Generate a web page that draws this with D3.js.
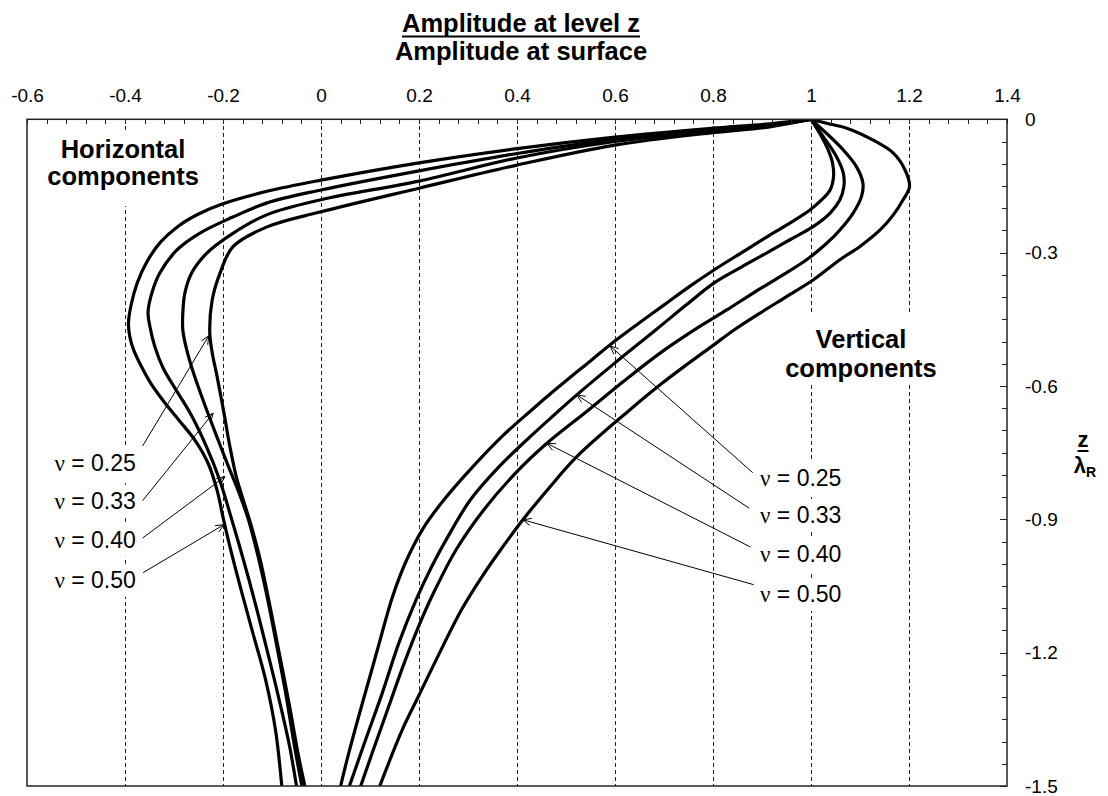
<!DOCTYPE html>
<html>
<head>
<meta charset="utf-8">
<script src="https://cdn.jsdelivr.net/npm/d3@7"></script>
<style>
  html, body { margin: 0; padding: 0; background: #fff; }
  svg { display: block; font-family: Arial, "Liberation Sans", sans-serif; }
</style>
</head>
<body>
<svg id="chart" width="1108" height="796"></svg>
<script>
// ---------------- data ----------------
// amplitude ratio (x) and normalised depth z / lambda_R (y)
const xTickValues = [-0.6, -0.4, -0.2, 0, 0.2, 0.4, 0.6, 0.8, 1, 1.2, 1.4];
const yTickValues = [0, -0.3, -0.6, -0.9, -1.2, -1.5];
const nuLabels = ["0.25", "0.33", "0.40", "0.50"];

// horizontal components, one array per Poisson's ratio: [amplitude, depth]
const horiz025 = [[1,0],[0.916,-0.017],[0.8,-0.030],[0.6,-0.058],[0.4,-0.103],[0.2,-0.155],[0.0,-0.208],
  [-0.110,-0.242],[-0.180,-0.287],[-0.206,-0.346],[-0.222,-0.406],[-0.227,-0.480],[-0.222,-0.525],
  [-0.212,-0.579],[-0.198,-0.661],[-0.186,-0.736],[-0.173,-0.804],[-0.163,-0.841],[-0.142,-0.916],
  [-0.124,-0.991],[-0.104,-1.096],[-0.084,-1.208],[-0.064,-1.321],[-0.047,-1.426],[-0.033,-1.500]];
const horiz033 = [[1,0],[0.916,-0.014],[0.8,-0.026],[0.6,-0.050],[0.4,-0.087],[0.2,-0.139],[0.0,-0.181],
  [-0.111,-0.215],[-0.179,-0.256],[-0.233,-0.301],[-0.264,-0.346],[-0.278,-0.392],[-0.282,-0.436],
  [-0.282,-0.474],[-0.274,-0.519],[-0.259,-0.575],[-0.238,-0.640],[-0.214,-0.710],[-0.189,-0.781],
  [-0.167,-0.841],[-0.148,-0.901],[-0.130,-0.976],[-0.110,-1.074],[-0.090,-1.186],[-0.071,-1.298],
  [-0.054,-1.411],[-0.039,-1.500]];
const horiz040 = [[1,0],[0.916,-0.012],[0.8,-0.023],[0.6,-0.045],[0.4,-0.077],[0.2,-0.116],[0.0,-0.159],
  [-0.110,-0.188],[-0.180,-0.220],[-0.247,-0.256],[-0.294,-0.294],[-0.329,-0.346],[-0.345,-0.390],
  [-0.353,-0.435],[-0.349,-0.467],[-0.339,-0.512],[-0.322,-0.560],[-0.298,-0.605],[-0.267,-0.661],
  [-0.234,-0.736],[-0.207,-0.811],[-0.186,-0.886],[-0.166,-0.961],[-0.147,-1.036],[-0.129,-1.111],
  [-0.112,-1.186],[-0.095,-1.261],[-0.079,-1.336],[-0.064,-1.411],[-0.050,-1.500]];
const horiz050 = [[1,0],[0.916,-0.010],[0.8,-0.020],[0.6,-0.040],[0.4,-0.066],[0.2,-0.098],[0.0,-0.137],
  [-0.110,-0.162],[-0.200,-0.190],[-0.250,-0.213],[-0.292,-0.241],[-0.328,-0.277],[-0.355,-0.320],
  [-0.375,-0.368],[-0.388,-0.420],[-0.393,-0.460],[-0.390,-0.490],[-0.382,-0.520],[-0.368,-0.553],
  [-0.348,-0.593],[-0.320,-0.636],[-0.289,-0.678],[-0.256,-0.724],[-0.230,-0.775],[-0.212,-0.835],
  [-0.199,-0.900],[-0.186,-0.961],[-0.165,-1.051],[-0.139,-1.156],[-0.113,-1.261],[-0.093,-1.373],
  [-0.080,-1.500]];

// vertical components
const vert025 = [[1,0],[1.018,-0.032],[1.035,-0.069],[1.044,-0.099],[1.046,-0.129],[1.039,-0.159],
  [1.022,-0.181],[0.998,-0.204],[0.950,-0.238],[0.911,-0.264],[0.857,-0.301],[0.802,-0.339],
  [0.751,-0.377],[0.701,-0.417],[0.652,-0.456],[0.603,-0.496],[0.536,-0.556],[0.470,-0.616],
  [0.430,-0.654],[0.369,-0.714],[0.298,-0.796],[0.251,-0.856],[0.211,-0.916],[0.175,-0.991],
  [0.146,-1.074],[0.119,-1.178],[0.100,-1.253],[0.077,-1.343],[0.055,-1.433],[0.040,-1.500]];
const vert033 = [[1,0],[1.025,-0.039],[1.052,-0.084],[1.066,-0.121],[1.067,-0.152],[1.059,-0.181],
  [1.039,-0.211],[1.005,-0.241],[0.957,-0.271],[0.909,-0.301],[0.857,-0.333],[0.801,-0.369],
  [0.745,-0.418],[0.683,-0.474],[0.600,-0.548],[0.522,-0.620],[0.487,-0.654],[0.427,-0.714],
  [0.364,-0.781],[0.305,-0.856],[0.259,-0.939],[0.226,-1.006],[0.194,-1.081],[0.159,-1.178],
  [0.125,-1.291],[0.091,-1.396],[0.058,-1.500]];
const vert040 = [[1,0],[1.032,-0.032],[1.066,-0.069],[1.093,-0.107],[1.106,-0.144],[1.103,-0.174],
  [1.086,-0.211],[1.059,-0.249],[1.032,-0.279],[0.991,-0.316],[0.937,-0.354],[0.882,-0.391],
  [0.828,-0.429],[0.773,-0.466],[0.692,-0.526],[0.617,-0.590],[0.546,-0.654],[0.461,-0.729],
  [0.397,-0.796],[0.332,-0.879],[0.276,-0.968],[0.233,-1.058],[0.208,-1.118],[0.170,-1.223],
  [0.136,-1.328],[0.107,-1.418],[0.081,-1.500]];
const vert050 = [[1,0],[1.032,-0.009],[1.073,-0.020],[1.127,-0.047],[1.168,-0.076],[1.192,-0.114],
  [1.201,-0.152],[1.188,-0.181],[1.168,-0.215],[1.141,-0.249],[1.100,-0.286],[1.059,-0.316],
  [1.005,-0.361],[0.950,-0.399],[0.896,-0.436],[0.843,-0.474],[0.801,-0.508],[0.750,-0.549],
  [0.696,-0.594],[0.630,-0.654],[0.522,-0.759],[0.465,-0.830],[0.412,-0.901],[0.367,-0.968],
  [0.328,-1.030],[0.287,-1.103],[0.232,-1.223],[0.199,-1.298],[0.166,-1.373],[0.120,-1.500]];

// callouts: label anchor, arrow tail and arrow head in [amplitude, depth]
const horizCallouts = [
  { nu: nuLabels[0], label: [-0.378, -0.791], tail: [-0.364, -0.735], head: [-0.229, -0.487] },
  { nu: nuLabels[1], label: [-0.378, -0.876], tail: [-0.364, -0.858], head: [-0.220, -0.661] },
  { nu: nuLabels[2], label: [-0.378, -0.964], tail: [-0.364, -0.942], head: [-0.196, -0.804] },
  { nu: nuLabels[3], label: [-0.378, -1.054], tail: [-0.363, -1.020], head: [-0.198, -0.912] }
];
const vertCallouts = [
  { nu: nuLabels[0], label: [0.896, -0.825], tail: [0.881, -0.795], head: [0.590, -0.510] },
  { nu: nuLabels[1], label: [0.896, -0.908], tail: [0.874, -0.875], head: [0.522, -0.620] },
  { nu: nuLabels[2], label: [0.896, -0.996], tail: [0.876, -0.962], head: [0.461, -0.729] },
  { nu: nuLabels[3], label: [0.896, -1.086], tail: [0.883, -1.047], head: [0.412, -0.901] }
];

// ---------------- layout ----------------
const W = 1108, H = 796;
const plot = { left: 27, right: 1007, top: 119.3, bottom: 786 };
const FONT = 'Arial, "Liberation Sans", sans-serif';

const x = d3.scaleLinear().domain([-0.6, 1.4]).range([plot.left, plot.right]);
const y = d3.scaleLinear().domain([0, -1.5]).range([plot.top, plot.bottom]);

const svg = d3.select("#chart");
svg.append("rect").attr("width", W).attr("height", H).attr("fill", "#fff");

svg.append("defs").append("clipPath").attr("id", "plotClip")
  .append("rect")
  .attr("x", plot.left).attr("y", plot.top)
  .attr("width", plot.right - plot.left).attr("height", plot.bottom - plot.top);

// dashed vertical gridlines at the major amplitude ticks
svg.append("g")
  .attr("shape-rendering", "crispEdges")
  .selectAll("line")
  .data(xTickValues.slice(1, -1))
  .join("line")
  .attr("x1", d => Math.round(x(d)) + 0.5).attr("x2", d => Math.round(x(d)) + 0.5)
  .attr("y1", plot.top).attr("y2", plot.bottom)
  .attr("stroke", "#222").attr("stroke-width", 1)
  .attr("stroke-dasharray", "4,3");

// text boxes with white fill (they hide the gridlines behind them)
const boxLayer = svg.append("g");
const textLayer = svg.append("g");

function boxedText(g, pad) {
  const b = g.node().getBBox();
  boxLayer.append("rect")
    .attr("x", b.x - pad[3]).attr("y", b.y - pad[0])
    .attr("width", b.width + pad[1] + pad[3])
    .attr("height", b.height + pad[0] + pad[2])
    .attr("fill", "#fff");
}

// "Horizontal components" / "Vertical components"
function twoLineLabel(cx, y1, y2, l1, l2, pad) {
  const g = textLayer.append("g");
  const t = g.append("text")
    .attr("text-anchor", "middle")
    .attr("font-family", FONT).attr("font-weight", "bold")
    .attr("font-size", 25.5).attr("fill", "#000");
  t.append("tspan").attr("x", cx).attr("y", y1).text(l1);
  t.append("tspan").attr("x", cx).attr("y", y2).text(l2);
  boxedText(g, pad);
}
twoLineLabel(x(-0.404), 158, 185, "Horizontal", "components", [4, 6, 16, 6]);
twoLineLabel(x(1.102), 348, 377, "Vertical", "components", [10, 6, 2, 6]);

// nu labels
function nuLabel(c, anchor) {
  const g = textLayer.append("g");
  const t = g.append("text")
    .attr("x", x(c.label[0])).attr("y", y(c.label[1]))
    .attr("text-anchor", anchor)
    .attr("font-family", FONT).attr("font-size", 23).attr("fill", "#000");
  t.append("tspan").attr("font-family", '"Liberation Serif", "Times New Roman", serif').text("\u03bd");
  t.append("tspan").text(" = " + c.nu);
  boxedText(g, [3, 2, 4, 2]);
}
horizCallouts.forEach(c => nuLabel(c, "end"));
vertCallouts.forEach(c => nuLabel(c, "start"));

// curves
const line = d3.line()
  .x(d => x(d[0])).y(d => y(d[1]))
  .curve(d3.curveCatmullRom.alpha(0.5));

const curves = [horiz025, horiz033, horiz040, horiz050, vert025, vert033, vert040, vert050];
svg.append("g").attr("clip-path", "url(#plotClip)")
  .selectAll("path")
  .data(curves)
  .join("path")
  .attr("d", line)
  .attr("fill", "none")
  .attr("stroke", "#000")
  .attr("stroke-width", 3.2)
  .attr("stroke-linejoin", "round");

// callout arrows (thin line with open head)
const arrowG = svg.append("g").attr("stroke", "#000").attr("stroke-width", 1).attr("fill", "none");
[...horizCallouts, ...vertCallouts].forEach(c => {
  const x0 = x(c.tail[0]), y0 = y(c.tail[1]);
  const x1 = x(c.head[0]), y1 = y(c.head[1]);
  const a = Math.atan2(y0 - y1, x0 - x1);
  const L = 9, s = 0.42;
  arrowG.append("line").attr("x1", x0).attr("y1", y0).attr("x2", x1).attr("y2", y1);
  arrowG.append("path").attr("d",
    `M${x1 + L * Math.cos(a + s)},${y1 + L * Math.sin(a + s)}L${x1},${y1}L${x1 + L * Math.cos(a - s)},${y1 + L * Math.sin(a - s)}`);
});

// top axis: labels
const topAxis = svg.append("g")
  .attr("transform", `translate(0,${plot.top})`)
  .call(d3.axisTop(x).tickValues(xTickValues).tickSize(0).tickPadding(17).tickFormat(d => String(d)));
topAxis.select(".domain").remove();
topAxis.selectAll("text").attr("font-family", FONT).attr("font-size", 19).attr("fill", "#000");

// top axis: inward minor ticks every 0.04
svg.append("g").attr("shape-rendering", "crispEdges").selectAll("line")
  .data(d3.range(0, 51).map(i => -0.6 + i * 0.04))
  .join("line")
  .attr("x1", d => Math.round(x(d)) + 0.5).attr("x2", d => Math.round(x(d)) + 0.5)
  .attr("y1", plot.top).attr("y2", plot.top + 5)
  .attr("stroke", "#222").attr("stroke-width", 1);

// right axis: labels
const rightAxis = svg.append("g")
  .attr("transform", `translate(${plot.right},0)`)
  .call(d3.axisRight(y).tickValues(yTickValues).tickSize(0).tickPadding(18).tickFormat(d => String(d)));
rightAxis.select(".domain").remove();
rightAxis.selectAll("text").attr("font-family", FONT).attr("font-size", 19).attr("fill", "#000");

// right axis: inward ticks, minor every 0.05, major every 0.3
svg.append("g").attr("shape-rendering", "crispEdges").selectAll("line")
  .data(d3.range(0, 31).map(i => -i * 0.05))
  .join("line")
  .attr("x1", plot.right)
  .attr("x2", (d, i) => plot.right - (i % 6 === 0 ? 7 : 5))
  .attr("y1", d => Math.round(y(d)) + 0.5).attr("y2", d => Math.round(y(d)) + 0.5)
  .attr("stroke", "#222").attr("stroke-width", 1);

// plot frame
svg.append("rect")
  .attr("x", plot.left).attr("y", plot.top)
  .attr("width", plot.right - plot.left).attr("height", plot.bottom - plot.top)
  .attr("fill", "none").attr("stroke", "#222").attr("stroke-width", 1.5);

// title (fraction) above the plot
const cxTitle = 521;
const t1 = svg.append("text")
  .attr("x", cxTitle).attr("y", 32).attr("text-anchor", "middle")
  .attr("font-family", FONT).attr("font-weight", "bold").attr("font-size", 25.5)
  .text("Amplitude at level z");
const b1 = t1.node().getBBox();
svg.append("line")
  .attr("x1", b1.x).attr("x2", b1.x + b1.width)
  .attr("y1", 36.5).attr("y2", 36.5)
  .attr("stroke", "#000").attr("stroke-width", 2);
svg.append("text")
  .attr("x", cxTitle).attr("y", 60).attr("text-anchor", "middle")
  .attr("font-family", FONT).attr("font-weight", "bold").attr("font-size", 25.5)
  .text("Amplitude at surface");

// depth axis title: z / lambda_R
const zt = svg.append("text")
  .attr("x", 1083).attr("y", 447).attr("text-anchor", "middle")
  .attr("font-family", FONT).attr("font-weight", "bold").attr("font-size", 22)
  .text("z");
const bz = zt.node().getBBox();
svg.append("line")
  .attr("x1", bz.x).attr("x2", bz.x + bz.width)
  .attr("y1", 451).attr("y2", 451)
  .attr("stroke", "#000").attr("stroke-width", 2);
const lt = svg.append("text")
  .attr("x", 1085).attr("y", 473).attr("text-anchor", "middle")
  .attr("font-family", FONT).attr("font-weight", "bold").attr("font-size", 22);
lt.append("tspan").text("\u03bb");
lt.append("tspan").attr("font-size", 14).attr("dy", 4).text("R");
</script>
</body>
</html>
